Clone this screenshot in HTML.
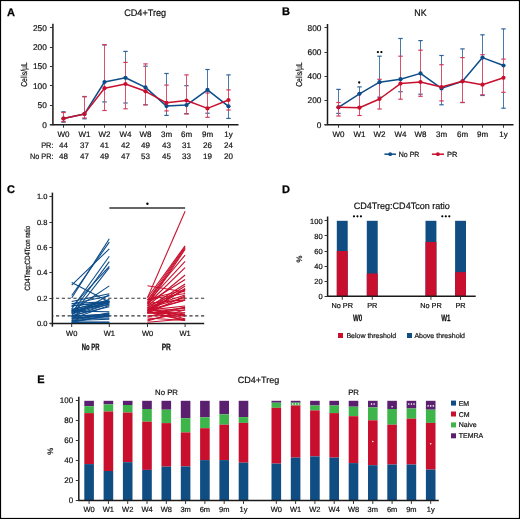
<!DOCTYPE html>
<html><head><meta charset="utf-8"><style>
html,body{margin:0;padding:0;background:#fff;}
svg{display:block;font-family:"Liberation Sans", sans-serif;will-change:transform;text-rendering:geometricPrecision;}
</style></head><body>
<svg width="520" height="519" viewBox="0 0 520 519">
<rect x="0" y="0" width="520" height="519" fill="#fff"/>
<rect x="0.5" y="0.5" width="519" height="518" fill="none" stroke="#000" stroke-width="1.2"/>
<text x="11.00" y="15.70" font-size="11" text-anchor="middle" fill="#000" stroke="#000" stroke-width="0.25" font-weight="bold" >A</text>
<text x="286.00" y="15.40" font-size="11" text-anchor="middle" fill="#000" stroke="#000" stroke-width="0.25" font-weight="bold" >B</text>
<text x="11.10" y="192.80" font-size="11" text-anchor="middle" fill="#000" stroke="#000" stroke-width="0.25" font-weight="bold" >C</text>
<text x="286.00" y="192.50" font-size="11" text-anchor="middle" fill="#000" stroke="#000" stroke-width="0.25" font-weight="bold" >D</text>
<text x="40.90" y="383.00" font-size="11" text-anchor="middle" fill="#000" stroke="#000" stroke-width="0.25" font-weight="bold" >E</text>
<text x="145.20" y="16.00" font-size="9.6" text-anchor="middle" fill="#111" stroke="#111" stroke-width="0.2" textLength="42" lengthAdjust="spacingAndGlyphs" >CD4+Treg</text>
<line x1="52.90" y1="23.70" x2="52.90" y2="125.20" stroke="#1a1a1a" stroke-width="1.5" />
<line x1="49.90" y1="124.70" x2="238.50" y2="124.70" stroke="#1a1a1a" stroke-width="1.5" />
<line x1="49.90" y1="124.50" x2="52.90" y2="124.50" stroke="#333" stroke-width="1.0" />
<text x="46.80" y="127.60" font-size="8.3" text-anchor="end" fill="#111" stroke="#111" stroke-width="0.2" >0</text>
<line x1="49.90" y1="105.50" x2="52.90" y2="105.50" stroke="#333" stroke-width="1.0" />
<text x="46.80" y="108.20" font-size="8.3" text-anchor="end" fill="#111" stroke="#111" stroke-width="0.2" >50</text>
<line x1="49.90" y1="85.50" x2="52.90" y2="85.50" stroke="#333" stroke-width="1.0" />
<text x="46.80" y="88.80" font-size="8.3" text-anchor="end" fill="#111" stroke="#111" stroke-width="0.2" >100</text>
<line x1="49.90" y1="66.50" x2="52.90" y2="66.50" stroke="#333" stroke-width="1.0" />
<text x="46.80" y="69.40" font-size="8.3" text-anchor="end" fill="#111" stroke="#111" stroke-width="0.2" >150</text>
<line x1="49.90" y1="47.50" x2="52.90" y2="47.50" stroke="#333" stroke-width="1.0" />
<text x="46.80" y="50.00" font-size="8.3" text-anchor="end" fill="#111" stroke="#111" stroke-width="0.2" >200</text>
<line x1="49.90" y1="27.50" x2="52.90" y2="27.50" stroke="#333" stroke-width="1.0" />
<text x="46.80" y="30.60" font-size="8.3" text-anchor="end" fill="#111" stroke="#111" stroke-width="0.2" >250</text>
<line x1="63.50" y1="124.70" x2="63.50" y2="127.70" stroke="#333" stroke-width="1.0" />
<text x="63.50" y="136.70" font-size="8" text-anchor="middle" fill="#111" stroke="#111" stroke-width="0.2" >W0</text>
<line x1="84.50" y1="124.70" x2="84.50" y2="127.70" stroke="#333" stroke-width="1.0" />
<text x="84.50" y="136.70" font-size="8" text-anchor="middle" fill="#111" stroke="#111" stroke-width="0.2" >W1</text>
<line x1="104.50" y1="124.70" x2="104.50" y2="127.70" stroke="#333" stroke-width="1.0" />
<text x="104.50" y="136.70" font-size="8" text-anchor="middle" fill="#111" stroke="#111" stroke-width="0.2" >W2</text>
<line x1="125.50" y1="124.70" x2="125.50" y2="127.70" stroke="#333" stroke-width="1.0" />
<text x="125.50" y="136.70" font-size="8" text-anchor="middle" fill="#111" stroke="#111" stroke-width="0.2" >W4</text>
<line x1="145.50" y1="124.70" x2="145.50" y2="127.70" stroke="#333" stroke-width="1.0" />
<text x="145.50" y="136.70" font-size="8" text-anchor="middle" fill="#111" stroke="#111" stroke-width="0.2" >W8</text>
<line x1="166.50" y1="124.70" x2="166.50" y2="127.70" stroke="#333" stroke-width="1.0" />
<text x="166.50" y="136.70" font-size="8" text-anchor="middle" fill="#111" stroke="#111" stroke-width="0.2" >3m</text>
<line x1="186.50" y1="124.70" x2="186.50" y2="127.70" stroke="#333" stroke-width="1.0" />
<text x="186.50" y="136.70" font-size="8" text-anchor="middle" fill="#111" stroke="#111" stroke-width="0.2" >6m</text>
<line x1="207.50" y1="124.70" x2="207.50" y2="127.70" stroke="#333" stroke-width="1.0" />
<text x="207.50" y="136.70" font-size="8" text-anchor="middle" fill="#111" stroke="#111" stroke-width="0.2" >9m</text>
<line x1="228.50" y1="124.70" x2="228.50" y2="127.70" stroke="#333" stroke-width="1.0" />
<text x="228.50" y="136.70" font-size="8" text-anchor="middle" fill="#111" stroke="#111" stroke-width="0.2" >1y</text>
<line x1="63.50" y1="111.80" x2="63.50" y2="122.20" stroke="#4a7aa8" stroke-width="1.0" />
<line x1="61.30" y1="111.80" x2="65.70" y2="111.80" stroke="#2f649a" stroke-width="1.2" />
<line x1="61.30" y1="122.20" x2="65.70" y2="122.20" stroke="#2f649a" stroke-width="1.2" />
<line x1="84.50" y1="96.50" x2="84.50" y2="118.80" stroke="#4a7aa8" stroke-width="1.0" />
<line x1="82.30" y1="96.50" x2="86.70" y2="96.50" stroke="#2f649a" stroke-width="1.2" />
<line x1="82.30" y1="118.80" x2="86.70" y2="118.80" stroke="#2f649a" stroke-width="1.2" />
<line x1="104.50" y1="45.00" x2="104.50" y2="101.90" stroke="#4a7aa8" stroke-width="1.0" />
<line x1="102.30" y1="45.00" x2="106.70" y2="45.00" stroke="#2f649a" stroke-width="1.2" />
<line x1="102.30" y1="101.90" x2="106.70" y2="101.90" stroke="#2f649a" stroke-width="1.2" />
<line x1="125.50" y1="51.40" x2="125.50" y2="103.00" stroke="#4a7aa8" stroke-width="1.0" />
<line x1="123.30" y1="51.40" x2="127.70" y2="51.40" stroke="#2f649a" stroke-width="1.2" />
<line x1="123.30" y1="103.00" x2="127.70" y2="103.00" stroke="#2f649a" stroke-width="1.2" />
<line x1="145.50" y1="66.20" x2="145.50" y2="104.80" stroke="#4a7aa8" stroke-width="1.0" />
<line x1="143.30" y1="66.20" x2="147.70" y2="66.20" stroke="#2f649a" stroke-width="1.2" />
<line x1="143.30" y1="104.80" x2="147.70" y2="104.80" stroke="#2f649a" stroke-width="1.2" />
<line x1="166.50" y1="73.50" x2="166.50" y2="115.40" stroke="#4a7aa8" stroke-width="1.0" />
<line x1="164.30" y1="73.50" x2="168.70" y2="73.50" stroke="#2f649a" stroke-width="1.2" />
<line x1="164.30" y1="115.40" x2="168.70" y2="115.40" stroke="#2f649a" stroke-width="1.2" />
<line x1="186.50" y1="85.70" x2="186.50" y2="113.60" stroke="#4a7aa8" stroke-width="1.0" />
<line x1="184.30" y1="85.70" x2="188.70" y2="85.70" stroke="#2f649a" stroke-width="1.2" />
<line x1="184.30" y1="113.60" x2="188.70" y2="113.60" stroke="#2f649a" stroke-width="1.2" />
<line x1="207.50" y1="69.50" x2="207.50" y2="113.20" stroke="#4a7aa8" stroke-width="1.0" />
<line x1="205.30" y1="69.50" x2="209.70" y2="69.50" stroke="#2f649a" stroke-width="1.2" />
<line x1="205.30" y1="113.20" x2="209.70" y2="113.20" stroke="#2f649a" stroke-width="1.2" />
<line x1="228.50" y1="74.90" x2="228.50" y2="118.40" stroke="#4a7aa8" stroke-width="1.0" />
<line x1="226.30" y1="74.90" x2="230.70" y2="74.90" stroke="#2f649a" stroke-width="1.2" />
<line x1="226.30" y1="118.40" x2="230.70" y2="118.40" stroke="#2f649a" stroke-width="1.2" />
<line x1="63.50" y1="112.50" x2="63.50" y2="121.50" stroke="#d9536f" stroke-width="1.0" />
<line x1="61.30" y1="112.50" x2="65.70" y2="112.50" stroke="#d23a5c" stroke-width="1.2" />
<line x1="61.30" y1="121.50" x2="65.70" y2="121.50" stroke="#d23a5c" stroke-width="1.2" />
<line x1="84.50" y1="96.80" x2="84.50" y2="118.00" stroke="#d9536f" stroke-width="1.0" />
<line x1="82.30" y1="96.80" x2="86.70" y2="96.80" stroke="#d23a5c" stroke-width="1.2" />
<line x1="82.30" y1="118.00" x2="86.70" y2="118.00" stroke="#d23a5c" stroke-width="1.2" />
<line x1="104.50" y1="44.60" x2="104.50" y2="110.50" stroke="#d9536f" stroke-width="1.0" />
<line x1="102.30" y1="44.60" x2="106.70" y2="44.60" stroke="#d23a5c" stroke-width="1.2" />
<line x1="102.30" y1="110.50" x2="106.70" y2="110.50" stroke="#d23a5c" stroke-width="1.2" />
<line x1="125.50" y1="62.40" x2="125.50" y2="108.80" stroke="#d9536f" stroke-width="1.0" />
<line x1="123.30" y1="62.40" x2="127.70" y2="62.40" stroke="#d23a5c" stroke-width="1.2" />
<line x1="123.30" y1="108.80" x2="127.70" y2="108.80" stroke="#d23a5c" stroke-width="1.2" />
<line x1="145.50" y1="63.90" x2="145.50" y2="104.80" stroke="#d9536f" stroke-width="1.0" />
<line x1="143.30" y1="63.90" x2="147.70" y2="63.90" stroke="#d23a5c" stroke-width="1.2" />
<line x1="143.30" y1="104.80" x2="147.70" y2="104.80" stroke="#d23a5c" stroke-width="1.2" />
<line x1="166.50" y1="85.10" x2="166.50" y2="110.90" stroke="#d9536f" stroke-width="1.0" />
<line x1="164.30" y1="85.10" x2="168.70" y2="85.10" stroke="#d23a5c" stroke-width="1.2" />
<line x1="164.30" y1="110.90" x2="168.70" y2="110.90" stroke="#d23a5c" stroke-width="1.2" />
<line x1="186.50" y1="74.90" x2="186.50" y2="114.00" stroke="#d9536f" stroke-width="1.0" />
<line x1="184.30" y1="74.90" x2="188.70" y2="74.90" stroke="#d23a5c" stroke-width="1.2" />
<line x1="184.30" y1="114.00" x2="188.70" y2="114.00" stroke="#d23a5c" stroke-width="1.2" />
<line x1="207.50" y1="93.00" x2="207.50" y2="117.30" stroke="#d9536f" stroke-width="1.0" />
<line x1="205.30" y1="93.00" x2="209.70" y2="93.00" stroke="#d23a5c" stroke-width="1.2" />
<line x1="205.30" y1="117.30" x2="209.70" y2="117.30" stroke="#d23a5c" stroke-width="1.2" />
<line x1="228.50" y1="89.90" x2="228.50" y2="110.00" stroke="#d9536f" stroke-width="1.0" />
<line x1="226.30" y1="89.90" x2="230.70" y2="89.90" stroke="#d23a5c" stroke-width="1.2" />
<line x1="226.30" y1="110.00" x2="230.70" y2="110.00" stroke="#d23a5c" stroke-width="1.2" />
<path d="M63.50,118.50 L84.50,113.90 L104.50,82.00 L125.50,77.80 L145.50,87.40 L166.50,106.10 L186.50,105.10 L207.50,89.90 L228.50,106.30" fill="none" stroke="#0c4c88" stroke-width="1.5" stroke-linejoin="round"/>
<circle cx="63.50" cy="118.50" r="2.1" fill="#0c4c88"/>
<circle cx="84.50" cy="113.90" r="2.1" fill="#0c4c88"/>
<circle cx="104.50" cy="82.00" r="2.1" fill="#0c4c88"/>
<circle cx="125.50" cy="77.80" r="2.1" fill="#0c4c88"/>
<circle cx="145.50" cy="87.40" r="2.1" fill="#0c4c88"/>
<circle cx="166.50" cy="106.10" r="2.1" fill="#0c4c88"/>
<circle cx="186.50" cy="105.10" r="2.1" fill="#0c4c88"/>
<circle cx="207.50" cy="89.90" r="2.1" fill="#0c4c88"/>
<circle cx="228.50" cy="106.30" r="2.1" fill="#0c4c88"/>
<path d="M63.50,118.50 L84.50,113.90 L104.50,88.20 L125.50,84.00 L145.50,91.30 L166.50,102.80 L186.50,100.50 L207.50,108.40 L228.50,100.00" fill="none" stroke="#c8102e" stroke-width="1.5" stroke-linejoin="round"/>
<circle cx="63.50" cy="118.50" r="2.1" fill="#c8102e"/>
<circle cx="84.50" cy="113.90" r="2.1" fill="#c8102e"/>
<circle cx="104.50" cy="88.20" r="2.1" fill="#c8102e"/>
<circle cx="125.50" cy="84.00" r="2.1" fill="#c8102e"/>
<circle cx="145.50" cy="91.30" r="2.1" fill="#c8102e"/>
<circle cx="166.50" cy="102.80" r="2.1" fill="#c8102e"/>
<circle cx="186.50" cy="100.50" r="2.1" fill="#c8102e"/>
<circle cx="207.50" cy="108.40" r="2.1" fill="#c8102e"/>
<circle cx="228.50" cy="100.00" r="2.1" fill="#c8102e"/>
<text x="26.60" y="74.50" font-size="8.6" text-anchor="middle" fill="#111" stroke="#111" stroke-width="0.2" textLength="24.6" lengthAdjust="spacingAndGlyphs" transform="rotate(-90 26.60 74.50)" >Cells/µL</text>
<text x="63.50" y="147.80" font-size="8" text-anchor="middle" fill="#111" stroke="#111" stroke-width="0.2" >44</text>
<text x="63.50" y="159.30" font-size="8" text-anchor="middle" fill="#111" stroke="#111" stroke-width="0.2" >48</text>
<text x="84.50" y="147.80" font-size="8" text-anchor="middle" fill="#111" stroke="#111" stroke-width="0.2" >37</text>
<text x="84.50" y="159.30" font-size="8" text-anchor="middle" fill="#111" stroke="#111" stroke-width="0.2" >47</text>
<text x="104.50" y="147.80" font-size="8" text-anchor="middle" fill="#111" stroke="#111" stroke-width="0.2" >41</text>
<text x="104.50" y="159.30" font-size="8" text-anchor="middle" fill="#111" stroke="#111" stroke-width="0.2" >49</text>
<text x="125.50" y="147.80" font-size="8" text-anchor="middle" fill="#111" stroke="#111" stroke-width="0.2" >42</text>
<text x="125.50" y="159.30" font-size="8" text-anchor="middle" fill="#111" stroke="#111" stroke-width="0.2" >47</text>
<text x="145.50" y="147.80" font-size="8" text-anchor="middle" fill="#111" stroke="#111" stroke-width="0.2" >49</text>
<text x="145.50" y="159.30" font-size="8" text-anchor="middle" fill="#111" stroke="#111" stroke-width="0.2" >53</text>
<text x="166.50" y="147.80" font-size="8" text-anchor="middle" fill="#111" stroke="#111" stroke-width="0.2" >43</text>
<text x="166.50" y="159.30" font-size="8" text-anchor="middle" fill="#111" stroke="#111" stroke-width="0.2" >45</text>
<text x="186.50" y="147.80" font-size="8" text-anchor="middle" fill="#111" stroke="#111" stroke-width="0.2" >31</text>
<text x="186.50" y="159.30" font-size="8" text-anchor="middle" fill="#111" stroke="#111" stroke-width="0.2" >33</text>
<text x="207.50" y="147.80" font-size="8" text-anchor="middle" fill="#111" stroke="#111" stroke-width="0.2" >26</text>
<text x="207.50" y="159.30" font-size="8" text-anchor="middle" fill="#111" stroke="#111" stroke-width="0.2" >19</text>
<text x="228.50" y="147.80" font-size="8" text-anchor="middle" fill="#111" stroke="#111" stroke-width="0.2" >24</text>
<text x="228.50" y="159.30" font-size="8" text-anchor="middle" fill="#111" stroke="#111" stroke-width="0.2" >20</text>
<text x="53.50" y="147.80" font-size="8" text-anchor="end" fill="#111" stroke="#111" stroke-width="0.2" textLength="12.3" lengthAdjust="spacingAndGlyphs" >PR:</text>
<text x="53.50" y="159.30" font-size="8" text-anchor="end" fill="#111" stroke="#111" stroke-width="0.2" textLength="23.6" lengthAdjust="spacingAndGlyphs" >No PR:</text>
<text x="420.40" y="15.50" font-size="9.3" text-anchor="middle" fill="#111" stroke="#111" stroke-width="0.2" textLength="12.3" lengthAdjust="spacingAndGlyphs" >NK</text>
<line x1="327.50" y1="24.00" x2="327.50" y2="125.20" stroke="#1a1a1a" stroke-width="1.5" />
<line x1="324.50" y1="124.70" x2="513.50" y2="124.70" stroke="#1a1a1a" stroke-width="1.5" />
<line x1="324.50" y1="124.50" x2="327.50" y2="124.50" stroke="#333" stroke-width="1.0" />
<text x="321.40" y="127.60" font-size="8.3" text-anchor="end" fill="#111" stroke="#111" stroke-width="0.2" >0</text>
<line x1="324.50" y1="100.50" x2="327.50" y2="100.50" stroke="#333" stroke-width="1.0" />
<text x="321.40" y="103.40" font-size="8.3" text-anchor="end" fill="#111" stroke="#111" stroke-width="0.2" >200</text>
<line x1="324.50" y1="76.50" x2="327.50" y2="76.50" stroke="#333" stroke-width="1.0" />
<text x="321.40" y="79.20" font-size="8.3" text-anchor="end" fill="#111" stroke="#111" stroke-width="0.2" >400</text>
<line x1="324.50" y1="52.50" x2="327.50" y2="52.50" stroke="#333" stroke-width="1.0" />
<text x="321.40" y="55.00" font-size="8.3" text-anchor="end" fill="#111" stroke="#111" stroke-width="0.2" >600</text>
<line x1="324.50" y1="27.50" x2="327.50" y2="27.50" stroke="#333" stroke-width="1.0" />
<text x="321.40" y="30.80" font-size="8.3" text-anchor="end" fill="#111" stroke="#111" stroke-width="0.2" >800</text>
<line x1="338.50" y1="124.70" x2="338.50" y2="127.70" stroke="#333" stroke-width="1.0" />
<text x="338.50" y="136.70" font-size="8" text-anchor="middle" fill="#111" stroke="#111" stroke-width="0.2" >W0</text>
<line x1="359.50" y1="124.70" x2="359.50" y2="127.70" stroke="#333" stroke-width="1.0" />
<text x="359.50" y="136.70" font-size="8" text-anchor="middle" fill="#111" stroke="#111" stroke-width="0.2" >W1</text>
<line x1="379.50" y1="124.70" x2="379.50" y2="127.70" stroke="#333" stroke-width="1.0" />
<text x="379.50" y="136.70" font-size="8" text-anchor="middle" fill="#111" stroke="#111" stroke-width="0.2" >W2</text>
<line x1="400.50" y1="124.70" x2="400.50" y2="127.70" stroke="#333" stroke-width="1.0" />
<text x="400.50" y="136.70" font-size="8" text-anchor="middle" fill="#111" stroke="#111" stroke-width="0.2" >W4</text>
<line x1="420.50" y1="124.70" x2="420.50" y2="127.70" stroke="#333" stroke-width="1.0" />
<text x="420.50" y="136.70" font-size="8" text-anchor="middle" fill="#111" stroke="#111" stroke-width="0.2" >W8</text>
<line x1="441.50" y1="124.70" x2="441.50" y2="127.70" stroke="#333" stroke-width="1.0" />
<text x="441.50" y="136.70" font-size="8" text-anchor="middle" fill="#111" stroke="#111" stroke-width="0.2" >3m</text>
<line x1="462.50" y1="124.70" x2="462.50" y2="127.70" stroke="#333" stroke-width="1.0" />
<text x="462.50" y="136.70" font-size="8" text-anchor="middle" fill="#111" stroke="#111" stroke-width="0.2" >6m</text>
<line x1="482.50" y1="124.70" x2="482.50" y2="127.70" stroke="#333" stroke-width="1.0" />
<text x="482.50" y="136.70" font-size="8" text-anchor="middle" fill="#111" stroke="#111" stroke-width="0.2" >9m</text>
<line x1="503.50" y1="124.70" x2="503.50" y2="127.70" stroke="#333" stroke-width="1.0" />
<text x="503.50" y="136.70" font-size="8" text-anchor="middle" fill="#111" stroke="#111" stroke-width="0.2" >1y</text>
<line x1="338.50" y1="89.40" x2="338.50" y2="113.40" stroke="#4a7aa8" stroke-width="1.0" />
<line x1="336.30" y1="89.40" x2="340.70" y2="89.40" stroke="#2f649a" stroke-width="1.2" />
<line x1="336.30" y1="113.40" x2="340.70" y2="113.40" stroke="#2f649a" stroke-width="1.2" />
<line x1="359.50" y1="86.90" x2="359.50" y2="107.00" stroke="#4a7aa8" stroke-width="1.0" />
<line x1="357.30" y1="86.90" x2="361.70" y2="86.90" stroke="#2f649a" stroke-width="1.2" />
<line x1="357.30" y1="107.00" x2="361.70" y2="107.00" stroke="#2f649a" stroke-width="1.2" />
<line x1="379.50" y1="56.20" x2="379.50" y2="97.10" stroke="#4a7aa8" stroke-width="1.0" />
<line x1="377.30" y1="56.20" x2="381.70" y2="56.20" stroke="#2f649a" stroke-width="1.2" />
<line x1="377.30" y1="97.10" x2="381.70" y2="97.10" stroke="#2f649a" stroke-width="1.2" />
<line x1="400.50" y1="38.50" x2="400.50" y2="91.70" stroke="#4a7aa8" stroke-width="1.0" />
<line x1="398.30" y1="38.50" x2="402.70" y2="38.50" stroke="#2f649a" stroke-width="1.2" />
<line x1="398.30" y1="91.70" x2="402.70" y2="91.70" stroke="#2f649a" stroke-width="1.2" />
<line x1="420.50" y1="40.60" x2="420.50" y2="94.20" stroke="#4a7aa8" stroke-width="1.0" />
<line x1="418.30" y1="40.60" x2="422.70" y2="40.60" stroke="#2f649a" stroke-width="1.2" />
<line x1="418.30" y1="94.20" x2="422.70" y2="94.20" stroke="#2f649a" stroke-width="1.2" />
<line x1="441.50" y1="55.50" x2="441.50" y2="104.80" stroke="#4a7aa8" stroke-width="1.0" />
<line x1="439.30" y1="55.50" x2="443.70" y2="55.50" stroke="#2f649a" stroke-width="1.2" />
<line x1="439.30" y1="104.80" x2="443.70" y2="104.80" stroke="#2f649a" stroke-width="1.2" />
<line x1="462.50" y1="48.90" x2="462.50" y2="102.50" stroke="#4a7aa8" stroke-width="1.0" />
<line x1="460.30" y1="48.90" x2="464.70" y2="48.90" stroke="#2f649a" stroke-width="1.2" />
<line x1="460.30" y1="102.50" x2="464.70" y2="102.50" stroke="#2f649a" stroke-width="1.2" />
<line x1="482.50" y1="34.80" x2="482.50" y2="95.50" stroke="#4a7aa8" stroke-width="1.0" />
<line x1="480.30" y1="34.80" x2="484.70" y2="34.80" stroke="#2f649a" stroke-width="1.2" />
<line x1="480.30" y1="95.50" x2="484.70" y2="95.50" stroke="#2f649a" stroke-width="1.2" />
<line x1="503.50" y1="28.90" x2="503.50" y2="108.20" stroke="#4a7aa8" stroke-width="1.0" />
<line x1="501.30" y1="28.90" x2="505.70" y2="28.90" stroke="#2f649a" stroke-width="1.2" />
<line x1="501.30" y1="108.20" x2="505.70" y2="108.20" stroke="#2f649a" stroke-width="1.2" />
<line x1="338.50" y1="102.50" x2="338.50" y2="116.00" stroke="#d9536f" stroke-width="1.0" />
<line x1="336.30" y1="102.50" x2="340.70" y2="102.50" stroke="#d23a5c" stroke-width="1.2" />
<line x1="336.30" y1="116.00" x2="340.70" y2="116.00" stroke="#d23a5c" stroke-width="1.2" />
<line x1="359.50" y1="93.50" x2="359.50" y2="115.50" stroke="#d9536f" stroke-width="1.0" />
<line x1="357.30" y1="93.50" x2="361.70" y2="93.50" stroke="#d23a5c" stroke-width="1.2" />
<line x1="357.30" y1="115.50" x2="361.70" y2="115.50" stroke="#d23a5c" stroke-width="1.2" />
<line x1="379.50" y1="79.30" x2="379.50" y2="109.00" stroke="#d9536f" stroke-width="1.0" />
<line x1="377.30" y1="79.30" x2="381.70" y2="79.30" stroke="#d23a5c" stroke-width="1.2" />
<line x1="377.30" y1="109.00" x2="381.70" y2="109.00" stroke="#d23a5c" stroke-width="1.2" />
<line x1="400.50" y1="56.20" x2="400.50" y2="99.20" stroke="#d9536f" stroke-width="1.0" />
<line x1="398.30" y1="56.20" x2="402.70" y2="56.20" stroke="#d23a5c" stroke-width="1.2" />
<line x1="398.30" y1="99.20" x2="402.70" y2="99.20" stroke="#d23a5c" stroke-width="1.2" />
<line x1="420.50" y1="50.20" x2="420.50" y2="96.30" stroke="#d9536f" stroke-width="1.0" />
<line x1="418.30" y1="50.20" x2="422.70" y2="50.20" stroke="#d23a5c" stroke-width="1.2" />
<line x1="418.30" y1="96.30" x2="422.70" y2="96.30" stroke="#d23a5c" stroke-width="1.2" />
<line x1="441.50" y1="64.70" x2="441.50" y2="100.90" stroke="#d9536f" stroke-width="1.0" />
<line x1="439.30" y1="64.70" x2="443.70" y2="64.70" stroke="#d23a5c" stroke-width="1.2" />
<line x1="439.30" y1="100.90" x2="443.70" y2="100.90" stroke="#d23a5c" stroke-width="1.2" />
<line x1="462.50" y1="57.60" x2="462.50" y2="102.50" stroke="#d9536f" stroke-width="1.0" />
<line x1="460.30" y1="57.60" x2="464.70" y2="57.60" stroke="#d23a5c" stroke-width="1.2" />
<line x1="460.30" y1="102.50" x2="464.70" y2="102.50" stroke="#d23a5c" stroke-width="1.2" />
<line x1="482.50" y1="54.70" x2="482.50" y2="94.80" stroke="#d9536f" stroke-width="1.0" />
<line x1="480.30" y1="54.70" x2="484.70" y2="54.70" stroke="#d23a5c" stroke-width="1.2" />
<line x1="480.30" y1="94.80" x2="484.70" y2="94.80" stroke="#d23a5c" stroke-width="1.2" />
<line x1="503.50" y1="59.10" x2="503.50" y2="92.30" stroke="#d9536f" stroke-width="1.0" />
<line x1="501.30" y1="59.10" x2="505.70" y2="59.10" stroke="#d23a5c" stroke-width="1.2" />
<line x1="501.30" y1="92.30" x2="505.70" y2="92.30" stroke="#d23a5c" stroke-width="1.2" />
<path d="M338.50,107.30 L359.50,93.80 L379.50,82.20 L400.50,79.20 L420.50,73.40 L441.50,88.40 L462.50,81.30 L482.50,57.60 L503.50,65.50" fill="none" stroke="#0c4c88" stroke-width="1.5" stroke-linejoin="round"/>
<circle cx="338.50" cy="107.30" r="2.1" fill="#0c4c88"/>
<circle cx="359.50" cy="93.80" r="2.1" fill="#0c4c88"/>
<circle cx="379.50" cy="82.20" r="2.1" fill="#0c4c88"/>
<circle cx="400.50" cy="79.20" r="2.1" fill="#0c4c88"/>
<circle cx="420.50" cy="73.40" r="2.1" fill="#0c4c88"/>
<circle cx="441.50" cy="88.40" r="2.1" fill="#0c4c88"/>
<circle cx="462.50" cy="81.30" r="2.1" fill="#0c4c88"/>
<circle cx="482.50" cy="57.60" r="2.1" fill="#0c4c88"/>
<circle cx="503.50" cy="65.50" r="2.1" fill="#0c4c88"/>
<path d="M338.50,107.30 L359.50,107.70 L379.50,99.00 L400.50,83.60 L420.50,82.00 L441.50,87.00 L462.50,81.30 L482.50,84.70 L503.50,77.80" fill="none" stroke="#c8102e" stroke-width="1.5" stroke-linejoin="round"/>
<circle cx="338.50" cy="107.30" r="2.1" fill="#c8102e"/>
<circle cx="359.50" cy="107.70" r="2.1" fill="#c8102e"/>
<circle cx="379.50" cy="99.00" r="2.1" fill="#c8102e"/>
<circle cx="400.50" cy="83.60" r="2.1" fill="#c8102e"/>
<circle cx="420.50" cy="82.00" r="2.1" fill="#c8102e"/>
<circle cx="441.50" cy="87.00" r="2.1" fill="#c8102e"/>
<circle cx="462.50" cy="81.30" r="2.1" fill="#c8102e"/>
<circle cx="482.50" cy="84.70" r="2.1" fill="#c8102e"/>
<circle cx="503.50" cy="77.80" r="2.1" fill="#c8102e"/>
<text x="301.60" y="74.50" font-size="8.6" text-anchor="middle" fill="#111" stroke="#111" stroke-width="0.2" textLength="24.6" lengthAdjust="spacingAndGlyphs" transform="rotate(-90 301.60 74.50)" >Cells/µL</text>
<circle cx="359.2" cy="82.5" r="1.15" fill="#000"/>
<circle cx="377.9" cy="52.1" r="1.15" fill="#000"/>
<circle cx="381.4" cy="52.1" r="1.15" fill="#000"/>
<line x1="384.40" y1="154.20" x2="396.00" y2="154.20" stroke="#0c4c88" stroke-width="1.5" />
<circle cx="390.2" cy="154.2" r="1.9" fill="#0c4c88"/>
<text x="398.80" y="156.90" font-size="7.5" text-anchor="start" fill="#111" stroke="#111" stroke-width="0.2" textLength="20.6" lengthAdjust="spacingAndGlyphs" >No PR</text>
<line x1="431.90" y1="154.20" x2="444.00" y2="154.20" stroke="#c8102e" stroke-width="1.5" />
<circle cx="437.9" cy="154.2" r="1.9" fill="#c8102e"/>
<text x="446.90" y="156.90" font-size="7.5" text-anchor="start" fill="#111" stroke="#111" stroke-width="0.2" >PR</text>
<line x1="52.40" y1="192.60" x2="52.40" y2="326.70" stroke="#1a1a1a" stroke-width="1.5" />
<line x1="49.80" y1="323.50" x2="204.20" y2="323.50" stroke="#1a1a1a" stroke-width="1.5" />
<line x1="49.40" y1="323.50" x2="52.40" y2="323.50" stroke="#333" stroke-width="1.0" />
<text x="47.40" y="326.10" font-size="7.5" text-anchor="end" fill="#111" stroke="#111" stroke-width="0.2" >0.0</text>
<line x1="49.40" y1="298.50" x2="52.40" y2="298.50" stroke="#333" stroke-width="1.0" />
<text x="47.40" y="300.74" font-size="7.5" text-anchor="end" fill="#111" stroke="#111" stroke-width="0.2" >0.2</text>
<line x1="49.40" y1="272.50" x2="52.40" y2="272.50" stroke="#333" stroke-width="1.0" />
<text x="47.40" y="275.38" font-size="7.5" text-anchor="end" fill="#111" stroke="#111" stroke-width="0.2" >0.4</text>
<line x1="49.40" y1="247.50" x2="52.40" y2="247.50" stroke="#333" stroke-width="1.0" />
<text x="47.40" y="250.02" font-size="7.5" text-anchor="end" fill="#111" stroke="#111" stroke-width="0.2" >0.6</text>
<line x1="49.40" y1="222.50" x2="52.40" y2="222.50" stroke="#333" stroke-width="1.0" />
<text x="47.40" y="224.66" font-size="7.5" text-anchor="end" fill="#111" stroke="#111" stroke-width="0.2" >0.8</text>
<line x1="49.40" y1="196.50" x2="52.40" y2="196.50" stroke="#333" stroke-width="1.0" />
<text x="47.40" y="199.30" font-size="7.5" text-anchor="end" fill="#111" stroke="#111" stroke-width="0.2" >1.0</text>
<line x1="71.70" y1="323.50" x2="71.70" y2="327.00" stroke="#333" stroke-width="1.0" />
<text x="71.70" y="335.50" font-size="7.5" text-anchor="middle" fill="#111" stroke="#111" stroke-width="0.2" >W0</text>
<line x1="109.30" y1="323.50" x2="109.30" y2="327.00" stroke="#333" stroke-width="1.0" />
<text x="109.30" y="335.50" font-size="7.5" text-anchor="middle" fill="#111" stroke="#111" stroke-width="0.2" >W1</text>
<line x1="147.50" y1="323.50" x2="147.50" y2="327.00" stroke="#333" stroke-width="1.0" />
<text x="147.50" y="335.50" font-size="7.5" text-anchor="middle" fill="#111" stroke="#111" stroke-width="0.2" >W0</text>
<line x1="185.10" y1="323.50" x2="185.10" y2="327.00" stroke="#333" stroke-width="1.0" />
<text x="185.10" y="335.50" font-size="7.5" text-anchor="middle" fill="#111" stroke="#111" stroke-width="0.2" >W1</text>
<text x="90.60" y="350.10" font-size="9.2" text-anchor="middle" fill="#111" stroke="#111" stroke-width="0.25" font-weight="bold" textLength="17.7" lengthAdjust="spacingAndGlyphs" >No PR</text>
<text x="166.30" y="350.10" font-size="9.2" text-anchor="middle" fill="#111" stroke="#111" stroke-width="0.25" font-weight="bold" textLength="9.2" lengthAdjust="spacingAndGlyphs" >PR</text>
<text x="29.90" y="258.20" font-size="7.6" text-anchor="middle" fill="#111" stroke="#111" stroke-width="0.2" textLength="64.5" lengthAdjust="spacingAndGlyphs" transform="rotate(-90 29.90 258.20)" >CD4Treg:CD4Tcon ratio</text>
<line x1="52.40" y1="298.20" x2="204.30" y2="298.20" stroke="#333" stroke-width="1.15" stroke-dasharray="3.2 2.6" stroke-dashoffset="2.2"/>
<line x1="52.40" y1="315.80" x2="204.30" y2="315.80" stroke="#333" stroke-width="1.15" stroke-dasharray="3.2 2.6" stroke-dashoffset="2.2"/>
<line x1="71.70" y1="298.00" x2="109.30" y2="238.70" stroke="#0c4c88" stroke-width="1.1" />
<line x1="71.70" y1="295.50" x2="109.30" y2="242.10" stroke="#0c4c88" stroke-width="1.1" />
<line x1="71.70" y1="285.20" x2="109.30" y2="248.80" stroke="#0c4c88" stroke-width="1.1" />
<line x1="71.70" y1="309.00" x2="109.30" y2="256.20" stroke="#0c4c88" stroke-width="1.1" />
<line x1="71.70" y1="313.00" x2="109.30" y2="261.60" stroke="#0c4c88" stroke-width="1.1" />
<line x1="71.70" y1="307.00" x2="109.30" y2="266.40" stroke="#0c4c88" stroke-width="1.1" />
<line x1="71.70" y1="316.00" x2="109.30" y2="267.70" stroke="#0c4c88" stroke-width="1.1" />
<line x1="71.70" y1="282.60" x2="109.30" y2="302.00" stroke="#0c4c88" stroke-width="1.1" />
<line x1="71.70" y1="311.00" x2="109.30" y2="285.90" stroke="#0c4c88" stroke-width="1.1" />
<line x1="71.70" y1="317.00" x2="109.30" y2="294.70" stroke="#0c4c88" stroke-width="1.1" />
<line x1="71.70" y1="301.50" x2="109.30" y2="293.80" stroke="#0c4c88" stroke-width="1.1" />
<line x1="71.70" y1="304.00" x2="109.30" y2="295.70" stroke="#0c4c88" stroke-width="1.1" />
<line x1="71.70" y1="305.62" x2="109.30" y2="302.04" stroke="#0c4c88" stroke-width="1.1" />
<line x1="71.70" y1="309.39" x2="109.30" y2="301.19" stroke="#0c4c88" stroke-width="1.1" />
<line x1="71.70" y1="306.06" x2="109.30" y2="302.29" stroke="#0c4c88" stroke-width="1.1" />
<line x1="71.70" y1="303.48" x2="109.30" y2="301.61" stroke="#0c4c88" stroke-width="1.1" />
<line x1="71.70" y1="317.87" x2="109.30" y2="318.15" stroke="#0c4c88" stroke-width="1.1" />
<line x1="71.70" y1="311.18" x2="109.30" y2="302.64" stroke="#0c4c88" stroke-width="1.1" />
<line x1="71.70" y1="311.13" x2="109.30" y2="311.71" stroke="#0c4c88" stroke-width="1.1" />
<line x1="71.70" y1="318.67" x2="109.30" y2="305.42" stroke="#0c4c88" stroke-width="1.1" />
<line x1="71.70" y1="322.28" x2="109.30" y2="322.30" stroke="#0c4c88" stroke-width="1.1" />
<line x1="71.70" y1="318.17" x2="109.30" y2="315.25" stroke="#0c4c88" stroke-width="1.1" />
<line x1="71.70" y1="311.97" x2="109.30" y2="299.50" stroke="#0c4c88" stroke-width="1.1" />
<line x1="71.70" y1="316.60" x2="109.30" y2="303.68" stroke="#0c4c88" stroke-width="1.1" />
<line x1="71.70" y1="312.38" x2="109.30" y2="302.73" stroke="#0c4c88" stroke-width="1.1" />
<line x1="71.70" y1="310.38" x2="109.30" y2="304.73" stroke="#0c4c88" stroke-width="1.1" />
<line x1="71.70" y1="315.51" x2="109.30" y2="316.67" stroke="#0c4c88" stroke-width="1.1" />
<line x1="71.70" y1="316.49" x2="109.30" y2="314.01" stroke="#0c4c88" stroke-width="1.1" />
<line x1="71.70" y1="316.25" x2="109.30" y2="314.17" stroke="#0c4c88" stroke-width="1.1" />
<line x1="71.70" y1="315.72" x2="109.30" y2="306.72" stroke="#0c4c88" stroke-width="1.1" />
<line x1="71.70" y1="322.47" x2="109.30" y2="322.30" stroke="#0c4c88" stroke-width="1.1" />
<line x1="71.70" y1="320.50" x2="109.30" y2="319.24" stroke="#0c4c88" stroke-width="1.1" />
<line x1="71.70" y1="313.94" x2="109.30" y2="304.07" stroke="#0c4c88" stroke-width="1.1" />
<line x1="71.70" y1="313.61" x2="109.30" y2="300.88" stroke="#0c4c88" stroke-width="1.1" />
<line x1="71.70" y1="319.58" x2="109.30" y2="312.79" stroke="#0c4c88" stroke-width="1.1" />
<line x1="71.70" y1="320.58" x2="109.30" y2="313.54" stroke="#0c4c88" stroke-width="1.1" />
<line x1="71.70" y1="321.98" x2="109.30" y2="322.30" stroke="#0c4c88" stroke-width="1.1" />
<line x1="71.70" y1="310.01" x2="109.30" y2="299.78" stroke="#0c4c88" stroke-width="1.1" />
<line x1="71.70" y1="321.38" x2="109.30" y2="315.84" stroke="#0c4c88" stroke-width="1.1" />
<line x1="71.70" y1="322.25" x2="109.30" y2="315.41" stroke="#0c4c88" stroke-width="1.1" />
<line x1="147.50" y1="297.60" x2="185.10" y2="211.20" stroke="#c8102e" stroke-width="1.1" />
<line x1="147.50" y1="297.80" x2="185.10" y2="245.70" stroke="#c8102e" stroke-width="1.1" />
<line x1="147.50" y1="300.50" x2="185.10" y2="246.80" stroke="#c8102e" stroke-width="1.1" />
<line x1="147.50" y1="303.00" x2="185.10" y2="248.00" stroke="#c8102e" stroke-width="1.1" />
<line x1="147.50" y1="305.50" x2="185.10" y2="249.30" stroke="#c8102e" stroke-width="1.1" />
<line x1="147.50" y1="300.00" x2="185.10" y2="255.20" stroke="#c8102e" stroke-width="1.1" />
<line x1="147.50" y1="302.00" x2="185.10" y2="261.40" stroke="#c8102e" stroke-width="1.1" />
<line x1="147.50" y1="304.00" x2="185.10" y2="267.70" stroke="#c8102e" stroke-width="1.1" />
<line x1="147.50" y1="306.00" x2="185.10" y2="275.00" stroke="#c8102e" stroke-width="1.1" />
<line x1="147.50" y1="303.00" x2="185.10" y2="279.50" stroke="#c8102e" stroke-width="1.1" />
<line x1="147.50" y1="308.00" x2="185.10" y2="284.00" stroke="#c8102e" stroke-width="1.1" />
<line x1="147.50" y1="310.00" x2="185.10" y2="286.00" stroke="#c8102e" stroke-width="1.1" />
<line x1="147.50" y1="285.80" x2="185.10" y2="292.00" stroke="#c8102e" stroke-width="1.1" />
<line x1="147.50" y1="308.34" x2="185.10" y2="297.39" stroke="#c8102e" stroke-width="1.1" />
<line x1="147.50" y1="310.93" x2="185.10" y2="300.19" stroke="#c8102e" stroke-width="1.1" />
<line x1="147.50" y1="310.10" x2="185.10" y2="299.91" stroke="#c8102e" stroke-width="1.1" />
<line x1="147.50" y1="299.44" x2="185.10" y2="293.52" stroke="#c8102e" stroke-width="1.1" />
<line x1="147.50" y1="313.15" x2="185.10" y2="296.09" stroke="#c8102e" stroke-width="1.1" />
<line x1="147.50" y1="312.51" x2="185.10" y2="288.58" stroke="#c8102e" stroke-width="1.1" />
<line x1="147.50" y1="306.04" x2="185.10" y2="290.45" stroke="#c8102e" stroke-width="1.1" />
<line x1="147.50" y1="307.16" x2="185.10" y2="295.04" stroke="#c8102e" stroke-width="1.1" />
<line x1="147.50" y1="299.20" x2="185.10" y2="290.03" stroke="#c8102e" stroke-width="1.1" />
<line x1="147.50" y1="303.19" x2="185.10" y2="299.83" stroke="#c8102e" stroke-width="1.1" />
<line x1="147.50" y1="310.49" x2="185.10" y2="289.23" stroke="#c8102e" stroke-width="1.1" />
<line x1="147.50" y1="310.96" x2="185.10" y2="288.94" stroke="#c8102e" stroke-width="1.1" />
<line x1="147.50" y1="316.95" x2="185.10" y2="307.03" stroke="#c8102e" stroke-width="1.1" />
<line x1="147.50" y1="308.03" x2="185.10" y2="318.94" stroke="#c8102e" stroke-width="1.1" />
<line x1="147.50" y1="311.04" x2="185.10" y2="308.45" stroke="#c8102e" stroke-width="1.1" />
<line x1="147.50" y1="322.25" x2="185.10" y2="318.96" stroke="#c8102e" stroke-width="1.1" />
<line x1="147.50" y1="312.19" x2="185.10" y2="320.38" stroke="#c8102e" stroke-width="1.1" />
<line x1="147.50" y1="315.82" x2="185.10" y2="315.85" stroke="#c8102e" stroke-width="1.1" />
<line x1="147.50" y1="310.97" x2="185.10" y2="320.06" stroke="#c8102e" stroke-width="1.1" />
<line x1="147.50" y1="318.01" x2="185.10" y2="320.47" stroke="#c8102e" stroke-width="1.1" />
<line x1="147.50" y1="320.96" x2="185.10" y2="309.78" stroke="#c8102e" stroke-width="1.1" />
<line x1="147.50" y1="313.24" x2="185.10" y2="307.66" stroke="#c8102e" stroke-width="1.1" />
<line x1="147.50" y1="310.11" x2="185.10" y2="306.04" stroke="#c8102e" stroke-width="1.1" />
<line x1="147.50" y1="312.37" x2="185.10" y2="314.65" stroke="#c8102e" stroke-width="1.1" />
<line x1="147.50" y1="308.05" x2="185.10" y2="315.85" stroke="#c8102e" stroke-width="1.1" />
<line x1="147.50" y1="312.90" x2="185.10" y2="309.96" stroke="#c8102e" stroke-width="1.1" />
<line x1="147.50" y1="319.87" x2="185.10" y2="312.69" stroke="#c8102e" stroke-width="1.1" />
<line x1="147.50" y1="312.58" x2="185.10" y2="312.70" stroke="#c8102e" stroke-width="1.1" />
<line x1="109.40" y1="208.00" x2="185.10" y2="208.00" stroke="#333" stroke-width="1.4" />
<circle cx="147.4" cy="203.7" r="1.2" fill="#000"/>
<text x="401.80" y="209.00" font-size="9.3" text-anchor="middle" fill="#111" stroke="#111" stroke-width="0.2" textLength="96.2" lengthAdjust="spacingAndGlyphs" >CD4Treg:CD4Tcon ratio</text>
<rect x="336.80" y="220.80" width="10.90" height="75.50" fill="#0f4d82"/>
<rect x="336.80" y="251.00" width="10.90" height="45.30" fill="#c8102e"/>
<rect x="366.80" y="220.80" width="10.90" height="75.50" fill="#0f4d82"/>
<rect x="366.80" y="273.50" width="10.90" height="22.80" fill="#c8102e"/>
<rect x="425.50" y="220.80" width="10.90" height="75.50" fill="#0f4d82"/>
<rect x="425.50" y="241.94" width="10.90" height="54.36" fill="#c8102e"/>
<rect x="455.10" y="220.80" width="10.90" height="75.50" fill="#0f4d82"/>
<rect x="455.10" y="272.14" width="10.90" height="24.16" fill="#c8102e"/>
<line x1="327.60" y1="216.50" x2="327.60" y2="296.80" stroke="#1a1a1a" stroke-width="1.5" />
<line x1="327.10" y1="296.30" x2="475.70" y2="296.30" stroke="#1a1a1a" stroke-width="1.5" />
<line x1="324.60" y1="296.50" x2="327.60" y2="296.50" stroke="#333" stroke-width="1.0" />
<text x="322.60" y="299.00" font-size="7.5" text-anchor="end" fill="#111" stroke="#111" stroke-width="0.2" >0</text>
<line x1="324.60" y1="281.50" x2="327.60" y2="281.50" stroke="#333" stroke-width="1.0" />
<text x="322.60" y="283.90" font-size="7.5" text-anchor="end" fill="#111" stroke="#111" stroke-width="0.2" >20</text>
<line x1="324.60" y1="266.50" x2="327.60" y2="266.50" stroke="#333" stroke-width="1.0" />
<text x="322.60" y="268.80" font-size="7.5" text-anchor="end" fill="#111" stroke="#111" stroke-width="0.2" >40</text>
<line x1="324.60" y1="251.50" x2="327.60" y2="251.50" stroke="#333" stroke-width="1.0" />
<text x="322.60" y="253.70" font-size="7.5" text-anchor="end" fill="#111" stroke="#111" stroke-width="0.2" >60</text>
<line x1="324.60" y1="235.50" x2="327.60" y2="235.50" stroke="#333" stroke-width="1.0" />
<text x="322.60" y="238.60" font-size="7.5" text-anchor="end" fill="#111" stroke="#111" stroke-width="0.2" >80</text>
<line x1="324.60" y1="220.50" x2="327.60" y2="220.50" stroke="#333" stroke-width="1.0" />
<text x="322.60" y="223.50" font-size="7.5" text-anchor="end" fill="#111" stroke="#111" stroke-width="0.2" >100</text>
<line x1="342.25" y1="296.30" x2="342.25" y2="299.80" stroke="#333" stroke-width="1.0" />
<line x1="372.25" y1="296.30" x2="372.25" y2="299.80" stroke="#333" stroke-width="1.0" />
<line x1="430.95" y1="296.30" x2="430.95" y2="299.80" stroke="#333" stroke-width="1.0" />
<line x1="460.55" y1="296.30" x2="460.55" y2="299.80" stroke="#333" stroke-width="1.0" />
<text x="342.25" y="308.00" font-size="7.3" text-anchor="middle" fill="#111" stroke="#111" stroke-width="0.2" >No PR</text>
<text x="372.20" y="308.00" font-size="7.3" text-anchor="middle" fill="#111" stroke="#111" stroke-width="0.2" >PR</text>
<text x="431.00" y="308.00" font-size="7.3" text-anchor="middle" fill="#111" stroke="#111" stroke-width="0.2" >No PR</text>
<text x="460.50" y="308.00" font-size="7.3" text-anchor="middle" fill="#111" stroke="#111" stroke-width="0.2" >PR</text>
<text x="357.60" y="321.30" font-size="9.2" text-anchor="middle" fill="#111" stroke="#111" stroke-width="0.25" font-weight="bold" textLength="9.3" lengthAdjust="spacingAndGlyphs" >W0</text>
<text x="445.80" y="321.30" font-size="9.2" text-anchor="middle" fill="#111" stroke="#111" stroke-width="0.25" font-weight="bold" textLength="9.3" lengthAdjust="spacingAndGlyphs" >W1</text>
<circle cx="353.95" cy="216.3" r="1.1" fill="#000"/>
<circle cx="357.45" cy="216.3" r="1.1" fill="#000"/>
<circle cx="360.95" cy="216.3" r="1.1" fill="#000"/>
<circle cx="442.30" cy="216.3" r="1.1" fill="#000"/>
<circle cx="445.80" cy="216.3" r="1.1" fill="#000"/>
<circle cx="449.30" cy="216.3" r="1.1" fill="#000"/>
<text x="302.20" y="259.00" font-size="7.8" text-anchor="middle" fill="#111" stroke="#111" stroke-width="0.2" transform="rotate(-90 302.20 259.00)" >%</text>
<rect x="338.00" y="333.00" width="5.00" height="5.00" fill="#c8102e"/>
<text x="346.40" y="338.20" font-size="7" text-anchor="start" fill="#111" stroke="#111" stroke-width="0.2" >Below threshold</text>
<rect x="407.00" y="333.00" width="5.00" height="5.00" fill="#0f4d82"/>
<text x="414.40" y="338.20" font-size="7" text-anchor="start" fill="#111" stroke="#111" stroke-width="0.2" >Above threshold</text>
<text x="258.50" y="383.00" font-size="9" text-anchor="middle" fill="#111" stroke="#111" stroke-width="0.2" >CD4+Treg</text>
<text x="166.50" y="394.60" font-size="7.8" text-anchor="middle" fill="#111" stroke="#111" stroke-width="0.2" >No PR</text>
<text x="353.60" y="394.60" font-size="7.8" text-anchor="middle" fill="#111" stroke="#111" stroke-width="0.2" >PR</text>
<rect x="84.30" y="400.80" width="9.60" height="5.40" fill="#5b1f6f"/>
<rect x="84.30" y="406.20" width="9.60" height="6.90" fill="#3db54a"/>
<rect x="84.30" y="413.10" width="9.60" height="51.00" fill="#c8102e"/>
<rect x="84.30" y="464.10" width="9.60" height="36.30" fill="#0f4d82"/>
<rect x="103.60" y="400.80" width="9.60" height="3.60" fill="#5b1f6f"/>
<rect x="103.60" y="404.40" width="9.60" height="7.10" fill="#3db54a"/>
<rect x="103.60" y="411.50" width="9.60" height="59.50" fill="#c8102e"/>
<rect x="103.60" y="471.00" width="9.60" height="29.40" fill="#0f4d82"/>
<rect x="122.90" y="400.80" width="9.60" height="4.20" fill="#5b1f6f"/>
<rect x="122.90" y="405.00" width="9.60" height="7.50" fill="#3db54a"/>
<rect x="122.90" y="412.50" width="9.60" height="49.70" fill="#c8102e"/>
<rect x="122.90" y="462.20" width="9.60" height="38.20" fill="#0f4d82"/>
<rect x="142.20" y="400.80" width="9.60" height="8.20" fill="#5b1f6f"/>
<rect x="142.20" y="409.00" width="9.60" height="12.70" fill="#3db54a"/>
<rect x="142.20" y="421.70" width="9.60" height="48.20" fill="#c8102e"/>
<rect x="142.20" y="469.90" width="9.60" height="30.50" fill="#0f4d82"/>
<rect x="161.50" y="400.80" width="9.60" height="8.90" fill="#5b1f6f"/>
<rect x="161.50" y="409.70" width="9.60" height="13.40" fill="#3db54a"/>
<rect x="161.50" y="423.10" width="9.60" height="43.50" fill="#c8102e"/>
<rect x="161.50" y="466.60" width="9.60" height="33.80" fill="#0f4d82"/>
<rect x="180.80" y="400.80" width="9.60" height="17.40" fill="#5b1f6f"/>
<rect x="180.80" y="418.20" width="9.60" height="14.20" fill="#3db54a"/>
<rect x="180.80" y="432.40" width="9.60" height="34.00" fill="#c8102e"/>
<rect x="180.80" y="466.40" width="9.60" height="34.00" fill="#0f4d82"/>
<rect x="200.10" y="400.80" width="9.60" height="16.50" fill="#5b1f6f"/>
<rect x="200.10" y="417.30" width="9.60" height="10.90" fill="#3db54a"/>
<rect x="200.10" y="428.20" width="9.60" height="31.90" fill="#c8102e"/>
<rect x="200.10" y="460.10" width="9.60" height="40.30" fill="#0f4d82"/>
<rect x="219.40" y="400.80" width="9.60" height="13.50" fill="#5b1f6f"/>
<rect x="219.40" y="414.30" width="9.60" height="10.40" fill="#3db54a"/>
<rect x="219.40" y="424.70" width="9.60" height="35.40" fill="#c8102e"/>
<rect x="219.40" y="460.10" width="9.60" height="40.30" fill="#0f4d82"/>
<rect x="238.70" y="400.80" width="9.60" height="16.30" fill="#5b1f6f"/>
<rect x="238.70" y="417.10" width="9.60" height="5.80" fill="#3db54a"/>
<rect x="238.70" y="422.90" width="9.60" height="39.80" fill="#c8102e"/>
<rect x="238.70" y="462.70" width="9.60" height="37.70" fill="#0f4d82"/>
<rect x="271.50" y="400.80" width="9.60" height="1.90" fill="#5b1f6f"/>
<rect x="271.50" y="402.70" width="9.60" height="5.10" fill="#3db54a"/>
<rect x="271.50" y="407.80" width="9.60" height="55.80" fill="#c8102e"/>
<rect x="271.50" y="463.60" width="9.60" height="36.80" fill="#0f4d82"/>
<rect x="290.80" y="400.80" width="9.60" height="1.90" fill="#5b1f6f"/>
<rect x="290.80" y="402.70" width="9.60" height="2.80" fill="#3db54a"/>
<rect x="290.80" y="405.50" width="9.60" height="52.10" fill="#c8102e"/>
<rect x="290.80" y="457.60" width="9.60" height="42.80" fill="#0f4d82"/>
<rect x="310.10" y="400.80" width="9.60" height="4.70" fill="#5b1f6f"/>
<rect x="310.10" y="405.50" width="9.60" height="4.90" fill="#3db54a"/>
<rect x="310.10" y="410.40" width="9.60" height="46.00" fill="#c8102e"/>
<rect x="310.10" y="456.40" width="9.60" height="44.00" fill="#0f4d82"/>
<rect x="329.40" y="400.80" width="9.60" height="4.70" fill="#5b1f6f"/>
<rect x="329.40" y="405.50" width="9.60" height="7.60" fill="#3db54a"/>
<rect x="329.40" y="413.10" width="9.60" height="44.50" fill="#c8102e"/>
<rect x="329.40" y="457.60" width="9.60" height="42.80" fill="#0f4d82"/>
<rect x="348.70" y="400.80" width="9.60" height="5.90" fill="#5b1f6f"/>
<rect x="348.70" y="406.70" width="9.60" height="9.50" fill="#3db54a"/>
<rect x="348.70" y="416.20" width="9.60" height="46.90" fill="#c8102e"/>
<rect x="348.70" y="463.10" width="9.60" height="37.30" fill="#0f4d82"/>
<rect x="368.00" y="400.80" width="9.60" height="6.60" fill="#5b1f6f"/>
<rect x="368.00" y="407.40" width="9.60" height="12.90" fill="#3db54a"/>
<rect x="368.00" y="420.30" width="9.60" height="44.90" fill="#c8102e"/>
<rect x="368.00" y="465.20" width="9.60" height="35.20" fill="#0f4d82"/>
<rect x="387.30" y="400.80" width="9.60" height="8.20" fill="#5b1f6f"/>
<rect x="387.30" y="409.00" width="9.60" height="15.70" fill="#3db54a"/>
<rect x="387.30" y="424.70" width="9.60" height="39.80" fill="#c8102e"/>
<rect x="387.30" y="464.50" width="9.60" height="35.90" fill="#0f4d82"/>
<rect x="406.60" y="400.80" width="9.60" height="7.70" fill="#5b1f6f"/>
<rect x="406.60" y="408.50" width="9.60" height="10.20" fill="#3db54a"/>
<rect x="406.60" y="418.70" width="9.60" height="45.80" fill="#c8102e"/>
<rect x="406.60" y="464.50" width="9.60" height="35.90" fill="#0f4d82"/>
<rect x="425.90" y="400.80" width="9.60" height="8.90" fill="#5b1f6f"/>
<rect x="425.90" y="409.70" width="9.60" height="13.20" fill="#3db54a"/>
<rect x="425.90" y="422.90" width="9.60" height="46.70" fill="#c8102e"/>
<rect x="425.90" y="469.60" width="9.60" height="30.80" fill="#0f4d82"/>
<line x1="78.80" y1="396.70" x2="78.80" y2="500.90" stroke="#1a1a1a" stroke-width="1.5" />
<line x1="78.30" y1="500.40" x2="438.80" y2="500.40" stroke="#1a1a1a" stroke-width="1.5" />
<line x1="75.80" y1="500.50" x2="78.80" y2="500.50" stroke="#333" stroke-width="1.0" />
<text x="73.20" y="503.20" font-size="8" text-anchor="end" fill="#111" stroke="#111" stroke-width="0.2" >0</text>
<line x1="75.80" y1="480.50" x2="78.80" y2="480.50" stroke="#333" stroke-width="1.0" />
<text x="73.20" y="483.24" font-size="8" text-anchor="end" fill="#111" stroke="#111" stroke-width="0.2" >20</text>
<line x1="75.80" y1="460.50" x2="78.80" y2="460.50" stroke="#333" stroke-width="1.0" />
<text x="73.20" y="463.28" font-size="8" text-anchor="end" fill="#111" stroke="#111" stroke-width="0.2" >40</text>
<line x1="75.80" y1="440.50" x2="78.80" y2="440.50" stroke="#333" stroke-width="1.0" />
<text x="73.20" y="443.32" font-size="8" text-anchor="end" fill="#111" stroke="#111" stroke-width="0.2" >60</text>
<line x1="75.80" y1="420.50" x2="78.80" y2="420.50" stroke="#333" stroke-width="1.0" />
<text x="73.20" y="423.36" font-size="8" text-anchor="end" fill="#111" stroke="#111" stroke-width="0.2" >80</text>
<line x1="75.80" y1="400.50" x2="78.80" y2="400.50" stroke="#333" stroke-width="1.0" />
<text x="73.20" y="403.40" font-size="8" text-anchor="end" fill="#111" stroke="#111" stroke-width="0.2" >100</text>
<line x1="89.10" y1="500.40" x2="89.10" y2="503.90" stroke="#333" stroke-width="1.0" />
<text x="89.10" y="511.60" font-size="7.5" text-anchor="middle" fill="#111" stroke="#111" stroke-width="0.2" >W0</text>
<line x1="108.40" y1="500.40" x2="108.40" y2="503.90" stroke="#333" stroke-width="1.0" />
<text x="108.40" y="511.60" font-size="7.5" text-anchor="middle" fill="#111" stroke="#111" stroke-width="0.2" >W1</text>
<line x1="127.70" y1="500.40" x2="127.70" y2="503.90" stroke="#333" stroke-width="1.0" />
<text x="127.70" y="511.60" font-size="7.5" text-anchor="middle" fill="#111" stroke="#111" stroke-width="0.2" >W2</text>
<line x1="147.00" y1="500.40" x2="147.00" y2="503.90" stroke="#333" stroke-width="1.0" />
<text x="147.00" y="511.60" font-size="7.5" text-anchor="middle" fill="#111" stroke="#111" stroke-width="0.2" >W4</text>
<line x1="166.30" y1="500.40" x2="166.30" y2="503.90" stroke="#333" stroke-width="1.0" />
<text x="166.30" y="511.60" font-size="7.5" text-anchor="middle" fill="#111" stroke="#111" stroke-width="0.2" >W8</text>
<line x1="185.60" y1="500.40" x2="185.60" y2="503.90" stroke="#333" stroke-width="1.0" />
<text x="185.60" y="511.60" font-size="7.5" text-anchor="middle" fill="#111" stroke="#111" stroke-width="0.2" >3m</text>
<line x1="204.90" y1="500.40" x2="204.90" y2="503.90" stroke="#333" stroke-width="1.0" />
<text x="204.90" y="511.60" font-size="7.5" text-anchor="middle" fill="#111" stroke="#111" stroke-width="0.2" >6m</text>
<line x1="224.20" y1="500.40" x2="224.20" y2="503.90" stroke="#333" stroke-width="1.0" />
<text x="224.20" y="511.60" font-size="7.5" text-anchor="middle" fill="#111" stroke="#111" stroke-width="0.2" >9m</text>
<line x1="243.50" y1="500.40" x2="243.50" y2="503.90" stroke="#333" stroke-width="1.0" />
<text x="243.50" y="511.60" font-size="7.5" text-anchor="middle" fill="#111" stroke="#111" stroke-width="0.2" >1y</text>
<line x1="276.30" y1="500.40" x2="276.30" y2="503.90" stroke="#333" stroke-width="1.0" />
<text x="276.30" y="511.60" font-size="7.5" text-anchor="middle" fill="#111" stroke="#111" stroke-width="0.2" >W0</text>
<line x1="295.60" y1="500.40" x2="295.60" y2="503.90" stroke="#333" stroke-width="1.0" />
<text x="295.60" y="511.60" font-size="7.5" text-anchor="middle" fill="#111" stroke="#111" stroke-width="0.2" >W1</text>
<line x1="314.90" y1="500.40" x2="314.90" y2="503.90" stroke="#333" stroke-width="1.0" />
<text x="314.90" y="511.60" font-size="7.5" text-anchor="middle" fill="#111" stroke="#111" stroke-width="0.2" >W2</text>
<line x1="334.20" y1="500.40" x2="334.20" y2="503.90" stroke="#333" stroke-width="1.0" />
<text x="334.20" y="511.60" font-size="7.5" text-anchor="middle" fill="#111" stroke="#111" stroke-width="0.2" >W4</text>
<line x1="353.50" y1="500.40" x2="353.50" y2="503.90" stroke="#333" stroke-width="1.0" />
<text x="353.50" y="511.60" font-size="7.5" text-anchor="middle" fill="#111" stroke="#111" stroke-width="0.2" >W8</text>
<line x1="372.80" y1="500.40" x2="372.80" y2="503.90" stroke="#333" stroke-width="1.0" />
<text x="372.80" y="511.60" font-size="7.5" text-anchor="middle" fill="#111" stroke="#111" stroke-width="0.2" >3m</text>
<line x1="392.10" y1="500.40" x2="392.10" y2="503.90" stroke="#333" stroke-width="1.0" />
<text x="392.10" y="511.60" font-size="7.5" text-anchor="middle" fill="#111" stroke="#111" stroke-width="0.2" >6m</text>
<line x1="411.40" y1="500.40" x2="411.40" y2="503.90" stroke="#333" stroke-width="1.0" />
<text x="411.40" y="511.60" font-size="7.5" text-anchor="middle" fill="#111" stroke="#111" stroke-width="0.2" >9m</text>
<line x1="430.70" y1="500.40" x2="430.70" y2="503.90" stroke="#333" stroke-width="1.0" />
<text x="430.70" y="511.60" font-size="7.5" text-anchor="middle" fill="#111" stroke="#111" stroke-width="0.2" >1y</text>
<text x="53.20" y="451.20" font-size="7.8" text-anchor="middle" fill="#111" stroke="#111" stroke-width="0.2" transform="rotate(-90 53.20 451.20)" >%</text>
<circle cx="292.80" cy="404.00" r="0.8" fill="#fff"/>
<circle cx="295.60" cy="404.00" r="0.8" fill="#fff"/>
<circle cx="298.40" cy="404.00" r="0.8" fill="#fff"/>
<circle cx="371.50" cy="404.10" r="0.8" fill="#fff"/>
<circle cx="374.10" cy="404.10" r="0.8" fill="#fff"/>
<circle cx="372.80" cy="441.50" r="0.8" fill="#fff"/>
<circle cx="392.10" cy="406.70" r="0.8" fill="#fff"/>
<circle cx="408.80" cy="404.10" r="0.8" fill="#fff"/>
<circle cx="411.40" cy="404.10" r="0.8" fill="#fff"/>
<circle cx="414.00" cy="404.10" r="0.8" fill="#fff"/>
<circle cx="428.10" cy="405.90" r="0.8" fill="#fff"/>
<circle cx="430.70" cy="405.90" r="0.8" fill="#fff"/>
<circle cx="433.30" cy="405.90" r="0.8" fill="#fff"/>
<circle cx="430.70" cy="443.70" r="0.8" fill="#fff"/>
<rect x="451.00" y="400.60" width="5.00" height="5.00" fill="#0f4d82"/>
<text x="458.70" y="405.60" font-size="7" text-anchor="start" fill="#111" stroke="#111" stroke-width="0.2" >EM</text>
<rect x="451.00" y="411.50" width="5.00" height="5.00" fill="#c8102e"/>
<text x="458.70" y="416.50" font-size="7" text-anchor="start" fill="#111" stroke="#111" stroke-width="0.2" >CM</text>
<rect x="451.00" y="422.40" width="5.00" height="5.00" fill="#3db54a"/>
<text x="458.70" y="427.40" font-size="7" text-anchor="start" fill="#111" stroke="#111" stroke-width="0.2" >Naive</text>
<rect x="451.00" y="433.30" width="5.00" height="5.00" fill="#5b1f6f"/>
<text x="458.70" y="438.30" font-size="7" text-anchor="start" fill="#111" stroke="#111" stroke-width="0.2" >TEMRA</text>
</svg>
</body></html>
